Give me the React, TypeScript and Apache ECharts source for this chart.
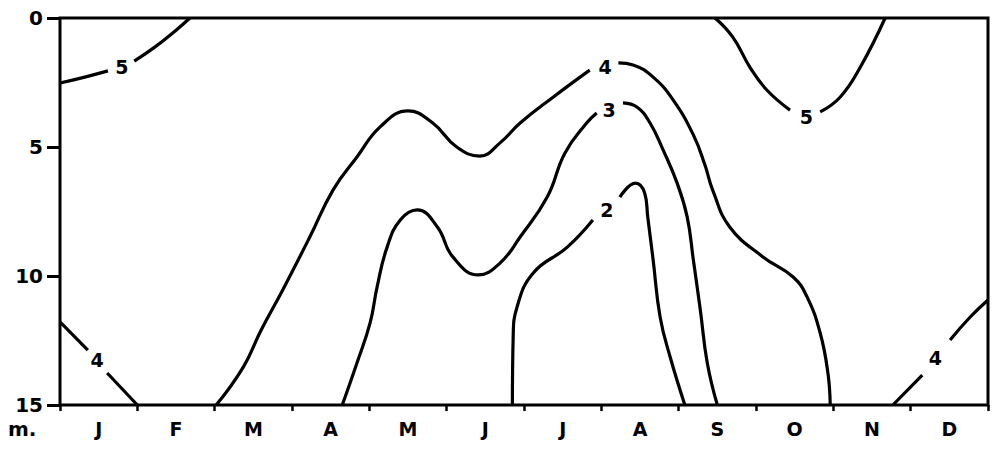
import React, { useEffect, useRef } from "react";
import * as echarts from "echarts";

const months = ["Jan", "Feb", "Mar", "Apr", "May", "Jun", "Jul", "Aug", "Sep", "Oct", "Nov", "Dec"];
const monthLabels = ["J", "F", "M", "A", "M", "J", "J", "A", "S", "O", "N", "D"];
const depthTicks = [0, 5, 10, 15];

// Contour segments: [month position, depth (m)]
const c5TopLeftA = [[0, 2.52], [0.32, 2.29], [0.62, 2.05]];
const c5TopLeftB = [[0.96, 1.67], [1.23, 1.12], [1.49, 0.5], [1.68, 0]];
const c4BottomLeftA = [[0, 11.78], [0.36, 12.87]];
const c4BottomLeftB = [[0.61, 13.76], [1.0, 15]];
const c4MainA = [[2.02, 15], [2.37, 13.53], [2.6, 12.1], [2.88, 10.54], [3.23, 8.49], [3.53, 6.67], [3.84, 5.39], [4.14, 4.22], [4.5, 3.6], [4.82, 4.07], [5.13, 5.0], [5.43, 5.35], [5.69, 4.84], [5.95, 4.07], [6.38, 3.06], [6.85, 2.02]];
const c4MainB = [[7.22, 1.74], [7.41, 1.82], [7.67, 2.29], [7.93, 3.18], [8.19, 4.53], [8.34, 5.7], [8.44, 6.67], [8.66, 8.1], [9.09, 9.26], [9.48, 10.04], [9.66, 10.81], [9.83, 12.21], [9.93, 13.76], [9.96, 15]];
const c3A = [[3.65, 15], [3.84, 13.37], [4.01, 11.82], [4.1, 10.43], [4.23, 8.88], [4.4, 7.83], [4.62, 7.44], [4.88, 8.1], [5.08, 9.26], [5.41, 9.96], [5.69, 9.5], [5.95, 8.49], [6.3, 6.94], [6.53, 5.23], [6.81, 4.07], [6.94, 3.68]];
const c3B = [[7.28, 3.29], [7.46, 3.45], [7.63, 4.07], [7.8, 5.12], [7.98, 6.4], [8.11, 7.71], [8.19, 9.38], [8.28, 11.32], [8.37, 13.37], [8.5, 15]];
const c2A = [[5.85, 15], [5.86, 12.36], [5.91, 11.2], [6.12, 9.88], [6.56, 8.88], [6.89, 7.83]];
const c2B = [[7.24, 6.94], [7.44, 6.4], [7.56, 6.78], [7.6, 7.71], [7.67, 9.38], [7.76, 11.59], [7.89, 13.14], [8.08, 15]];
const c5TopRightA = [[8.47, 0], [8.7, 0.74], [8.92, 1.9], [9.14, 2.79], [9.44, 3.57]];
const c5TopRightB = [[9.83, 3.64], [10.09, 3.06], [10.35, 1.9], [10.67, 0]];
const c4BottomRightA = [[10.77, 15], [11.15, 13.84]];
const c4BottomRightB = [[11.51, 12.48], [11.77, 11.59], [12, 10.93]];

const contourLabels = [
  [0.8, 1.9, "5"],
  [0.48, 13.26, "4"],
  [7.05, 1.9, "4"],
  [7.1, 3.57, "3"],
  [7.07, 7.44, "2"],
  [9.65, 3.84, "5"],
  [11.32, 13.18, "4"],
];

const segments = [
  c5TopLeftA, c5TopLeftB, c4BottomLeftA, c4BottomLeftB, c4MainA, c4MainB,
  c3A, c3B, c2A, c2B, c5TopRightA, c5TopRightB, c4BottomRightA, c4BottomRightB,
];

const FONT = "'DejaVu Sans', 'Liberation Sans', Arial, sans-serif";

export default function App() {
  const ref = useRef<HTMLDivElement>(null);
  useEffect(() => {
    document.body.style.margin = "0";
    const chart = echarts.init(ref.current!, null, { renderer: "svg" });
    const lineSeries = segments.map((seg) => ({
      type: "line",
      xAxisIndex: 0,
      yAxisIndex: 0,
      data: seg,
      smooth: 0.45,
      showSymbol: false,
      symbol: "none",
      lineStyle: { color: "#000", width: 3.2 },
      silent: true,
    }));
    chart.setOption({
      animation: false,
      backgroundColor: "#fff",
      grid: {
        left: 60,
        top: 18,
        right: 7,
        bottom: 44,
        show: true,
        borderColor: "#000",
        borderWidth: 3,
        backgroundColor: "transparent",
      },
      xAxis: [
        {
          type: "value",
          min: 0,
          max: 12,
          interval: 1,
          axisLine: { show: false },
          axisTick: { show: false },
          axisLabel: { show: false },
          splitLine: { show: false },
        },
        {
          type: "category",
          position: "bottom",
          data: months,
          boundaryGap: true,
          axisLine: { show: false },
          axisTick: { show: true, inside: false, length: 6, lineStyle: { color: "#000", width: 2.5 } },
          axisLabel: {
            margin: 14,
            color: "#000",
            fontFamily: FONT,
            fontWeight: "bold",
            fontSize: 19,
            formatter: (_v: string, i: number) => monthLabels[i],
          },
          splitLine: { show: false },
        },
      ],
      yAxis: {
        type: "value",
        inverse: true,
        min: 0,
        max: 15,
        interval: 5,
        axisLine: { show: false },
        axisTick: { show: true, inside: false, length: 13, lineStyle: { color: "#000", width: 3 } },
        axisLabel: {
          margin: 17,
          color: "#000",
          fontFamily: FONT,
          fontWeight: "bold",
          fontSize: 20,
          formatter: (v: number) => (depthTicks.includes(v) ? String(v) : ""),
        },
        splitLine: { show: false },
      },
      graphic: [
        {
          type: "text",
          left: 8,
          top: 419,
          style: { text: "m.", fill: "#000", font: `bold 20px ${FONT}` },
        },
      ],
      series: [
        ...lineSeries,
        {
          type: "scatter",
          xAxisIndex: 0,
          yAxisIndex: 0,
          data: contourLabels,
          symbolSize: 0,
          itemStyle: { color: "#000", opacity: 1 },
          label: {
            show: true,
            position: "inside",
            formatter: (p: any) => p.value[2],
            color: "#000",
            opacity: 1,
            textBorderWidth: 0,
            fontFamily: FONT,
            fontWeight: "bold",
            fontSize: 19,
          },
          silent: true,
        },
      ],
    });
    return () => chart.dispose();
  }, []);
  return <div ref={ref} style={{ width: 995, height: 449 }} />;
}
